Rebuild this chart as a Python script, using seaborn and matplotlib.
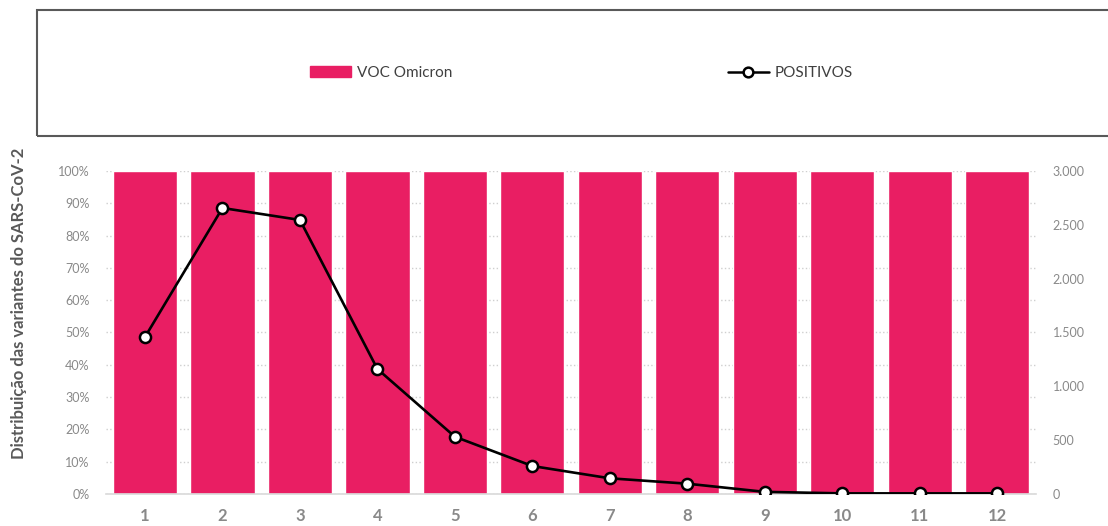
import matplotlib
matplotlib.use('Agg')
import matplotlib.pyplot as plt
import matplotlib.patches as mpatches
from matplotlib.lines import Line2D
from matplotlib.ticker import FuncFormatter, MultipleLocator
import seaborn as sns
import pandas as pd

# Semanas (eixo x)
semanas = [1, 2, 3, 4, 5, 6, 7, 8, 9, 10, 11, 12]
# Percentagem da VOC Omicron em cada semana
omicron_pct = [100, 100, 100, 100, 100, 100, 100, 100, 100, 100, 100, 100]
# Casos positivos (eixo secundario)
positivos = [1458, 2656, 2545, 1161, 532, 260, 146, 96, 20, 6, 6, 6]

PINK = '#E91E63'
GREY = '#898989'

sns.set_theme(style='white')
plt.rcParams['font.family'] = ['Lato', 'DejaVu Sans']

df = pd.DataFrame({'semana': semanas, 'omicron': omicron_pct, 'positivos': positivos})

fig = plt.figure(figsize=(11.08, 5.26), dpi=100)
ax = fig.add_axes([0.0959, 0.0608, 0.839, 0.6142])

sns.barplot(data=df, x='semana', y='omicron', color=PINK, saturation=1,
            width=0.83, ax=ax)
ax.set_ylim(0, 100)
ax.yaxis.set_major_locator(MultipleLocator(10))
ax.yaxis.set_major_formatter(FuncFormatter(lambda v, p: f'{v:.0f}%'))
ax.grid(axis='y', color='#cfcfcf', linestyle=':', linewidth=1.0)
ax.set_axisbelow(True)
for s in ['top', 'right', 'left']:
    ax.spines[s].set_visible(False)
ax.spines['bottom'].set_color('#d9d9d9')
ax.spines['bottom'].set_linewidth(1.2)
ax.tick_params(axis='y', colors=GREY, labelsize=9, length=0, pad=12)
ax.tick_params(axis='x', length=0, pad=10)
for lbl in ax.get_xticklabels():
    lbl.set_fontweight('bold')
    lbl.set_color(GREY)
    lbl.set_fontsize(12)
ax.set_xlabel('')
ax.set_ylabel('Distribuição das variantes do SARS-CoV-2', fontsize=12,
              fontweight='bold', color='#595959')
ax.yaxis.set_label_coords(-0.085, 0.59)

ax2 = ax.twinx()
sns.pointplot(data=df, x='semana', y='positivos', color='black', ax=ax2,
              markers='o', linestyles='-', linewidth=1.9,
              markerfacecolor='white', markeredgecolor='black',
              markersize=8, markeredgewidth=1.8)
ax2.set_ylim(0, 3000)
ax2.set_xlim(-0.5, len(semanas) - 0.5)
ax.set_xlim(-0.5, len(semanas) - 0.5)
ax2.yaxis.set_major_locator(MultipleLocator(500))
ax2.yaxis.set_major_formatter(FuncFormatter(lambda v, p: f'{v:,.0f}'.replace(',', '.')))
ax2.tick_params(axis='y', colors=GREY, labelsize=9, length=0, pad=12)
ax2.set_ylabel('')
ax2.set_xlabel('')
for s in ax2.spines.values():
    s.set_visible(False)

# Caixa da legenda
box = mpatches.Rectangle((37 / 1108, 1 - 136 / 526), 1.2, (136 - 10) / 526,
                         transform=fig.transFigure, fill=False,
                         edgecolor='#595959', linewidth=1.5, clip_on=False)
fig.patches.append(box)

handles = [
    mpatches.Patch(color=PINK, label='VOC Omicron'),
    Line2D([0], [0], color='black', linewidth=1.8, marker='o',
           markerfacecolor='white', markeredgecolor='black',
           markersize=7, markeredgewidth=1.8, label='POSITIVOS'),
]
fig.legend(handles=handles, loc='center', bbox_to_anchor=(0.525, 1 - 73 / 526),
           ncol=2, frameon=False, fontsize=11, labelcolor='#404040',
           handlelength=2.7, handleheight=0.75, handletextpad=0.4,
           columnspacing=18)

fig.savefig('out.png', dpi=100)
